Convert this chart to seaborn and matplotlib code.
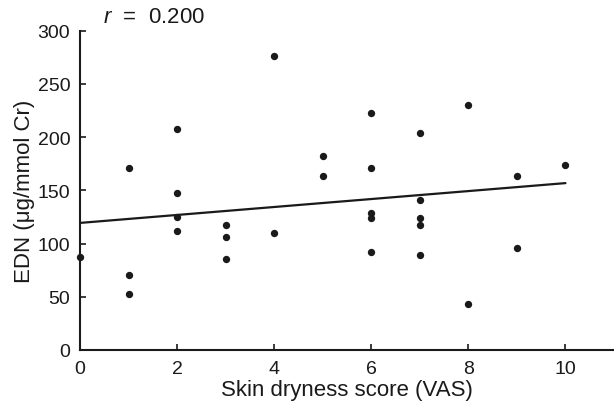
import matplotlib
matplotlib.use('Agg')
import matplotlib.pyplot as plt
import seaborn as sns
import pandas as pd

# values
vas_score = [0,
             1, 1, 1,
             2, 2, 2, 2,
             3, 3, 3,
             4, 4,
             5, 5,
             6, 6, 6, 6, 6,
             7, 7, 7, 7, 7,
             8, 8,
             9, 9,
             10]
edn = [87.5,
       171.3, 70.0, 52.2,
       207.2, 147.5, 125.3, 111.9,
       117.5, 106.3, 85.3,
       276.3, 110.3,
       181.9, 163.1,
       222.2, 170.9, 128.4, 123.7, 91.6,
       203.7, 140.6, 123.7, 117.2, 89.7,
       230.0, 42.8,
       163.1, 95.9,
       174.1]
r_label = "$r$  =  0.200"
x_ticks = [0, 2, 4, 6, 8, 10]
y_ticks = [0, 50, 100, 150, 200, 250, 300]

df = pd.DataFrame({'vas': vas_score, 'edn': edn})

sns.set_style("ticks")
ink = '#1a1a1a'
plt.rcParams['font.family'] = ['Liberation Sans', 'DejaVu Sans']
plt.rcParams['mathtext.fontset'] = 'custom'
plt.rcParams['mathtext.it'] = 'Liberation Sans:italic'
plt.rcParams['mathtext.rm'] = 'Liberation Sans'

fig = plt.figure(figsize=(6.14, 4.06), dpi=100)
ax = fig.add_axes([0.1303, 0.1355, 0.8697, 0.7865])

# scatter + least-squares line
sns.regplot(data=df, x='vas', y='edn', ci=None, ax=ax,
            scatter_kws=dict(s=28, color=ink, alpha=1, linewidths=0, clip_on=False, zorder=3),
            line_kws=dict(color=ink, lw=1.6))

ax.set_xlim(0, 11)
ax.set_ylim(0, 300)
ax.set_xticks(x_ticks)
ax.set_yticks(y_ticks)
ax.set_xlabel('Skin dryness score (VAS)', fontsize=16, color=ink, labelpad=2)
ax.set_ylabel('EDN (μg/mmol Cr)', fontsize=16, color=ink, labelpad=2)
sns.despine(ax=ax)
ax.tick_params(axis='both', which='major', bottom=True, left=True,
               direction='in', length=4.5, width=1.2, color=ink,
               labelsize=14, labelcolor=ink, pad=7)
for side in ['left', 'bottom']:
    ax.spines[side].set_linewidth(1.5)
    ax.spines[side].set_color(ink)

ax.text(0.47, 303, r_label, fontsize=16, color=ink, va='bottom', ha='left', clip_on=False)

fig.savefig('out.png', dpi=100)
